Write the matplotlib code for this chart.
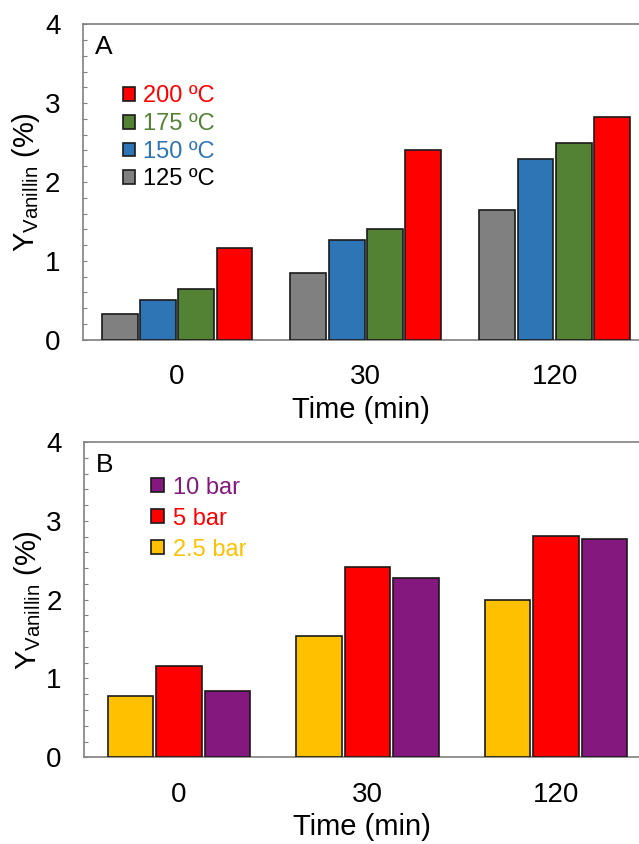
import matplotlib
matplotlib.use("Agg")
import matplotlib.pyplot as plt
import numpy as np
from matplotlib.ticker import MultipleLocator

plt.rcParams['font.family'] = ['Liberation Sans', 'DejaVu Sans']
plt.rcParams['mathtext.fontset'] = 'custom'
plt.rcParams['mathtext.rm'] = 'Liberation Sans'

# ---- data ----
times = ['0', '30', '120']

temp_labels = ['125 ºC', '150 ºC', '175 ºC', '200 ºC']
temp_colors = ['#808080', '#2E75B6', '#548235', '#FF0000']
temp_text_colors = ['#000000', '#2E75B6', '#548235', '#FF0000']
y_125 = [0.33, 0.85, 1.64]
y_150 = [0.50, 1.26, 2.29]
y_175 = [0.64, 1.40, 2.49]
y_200 = [1.16, 2.41, 2.82]

pres_labels = ['2.5 bar', '5 bar', '10 bar']
pres_colors = ['#FFC000', '#FF0000', '#84187F']
y_2p5 = [0.78, 1.54, 2.00]
y_5 = [1.16, 2.42, 2.81]
y_10 = [0.84, 2.28, 2.77]

fig = plt.figure(figsize=(6.39, 8.44), dpi=100)
axA = fig.add_axes([0.1294, 0.5975, 0.8706, 0.3737])
axB = fig.add_axes([0.1315, 0.1027, 0.8685, 0.3736])

spine_col = '#808080'


def style(ax, label):
    ax.set_ylim(0, 4)
    ax.yaxis.set_major_locator(MultipleLocator(1))
    ax.yaxis.set_minor_locator(MultipleLocator(0.2))
    ax.tick_params(axis='y', which='both', direction='in', length=3, width=0.8,
                   color=spine_col, labelsize=20, pad=16)
    ax.tick_params(axis='x', length=0, labelsize=20, pad=17.5)
    for s in ['left', 'top', 'bottom']:
        ax.spines[s].set_color(spine_col)
        ax.spines[s].set_linewidth(1.2)
    ax.spines['right'].set_visible(False)
    ax.set_xlabel('Time (min)', fontsize=21, labelpad=4)
    ax.set_ylabel(r'Y$_{\mathregular{Vanillin}}$ (%)', fontsize=21, labelpad=2)
    ax.text(0.022, 0.928, label, transform=ax.transAxes, fontsize=19,
            va='center', ha='left')


x = np.arange(len(times))

# Panel A
seriesA = [y_125, y_150, y_175, y_200]
slotA, wA = 0.203, 0.19
barsA = []
for i, (vals, col, lab) in enumerate(zip(seriesA, temp_colors, temp_labels)):
    off = (i - 1.5) * slotA
    b = axA.bar(x + off, vals, width=wA, color=col, edgecolor='#1a1a1a',
                linewidth=1.2, label=lab, zorder=3)
    barsA.append(b)
axA.set_xlim(-0.5, 2.447)
axA.set_xticks(x)
axA.set_xticklabels(times)
style(axA, 'A')
hA = barsA[::-1]
axA.legend(hA, [b.get_label() for b in hA], loc='upper left',
           bbox_to_anchor=(0.0725, 0.806), frameon=False, fontsize=17,
           handlelength=0.5, handleheight=0.5, handletextpad=0.35,
           labelspacing=0.24, borderpad=0, borderaxespad=0,
           labelcolor=temp_text_colors[::-1])

# Panel B
seriesB = [y_2p5, y_5, y_10]
slotB, wB = 0.257, 0.241
barsB = []
for i, (vals, col, lab) in enumerate(zip(seriesB, pres_colors, pres_labels)):
    off = (i - 1) * slotB
    b = axB.bar(x + off, vals, width=wB, color=col, edgecolor='#1a1a1a',
                linewidth=1.2, label=lab, zorder=3)
    barsB.append(b)
axB.set_xlim(-0.503, 2.44)
axB.set_xticks(x)
axB.set_xticklabels(times)
style(axB, 'B')
hB = barsB[::-1]
axB.legend(hB, [b.get_label() for b in hB], loc='upper left',
           bbox_to_anchor=(0.12, 0.89), frameon=False, fontsize=17,
           handlelength=0.55, handleheight=0.55, handletextpad=0.4,
           labelspacing=0.38, borderpad=0, borderaxespad=0,
           labelcolor=pres_colors[::-1])

fig.savefig('out.png', dpi=100)
